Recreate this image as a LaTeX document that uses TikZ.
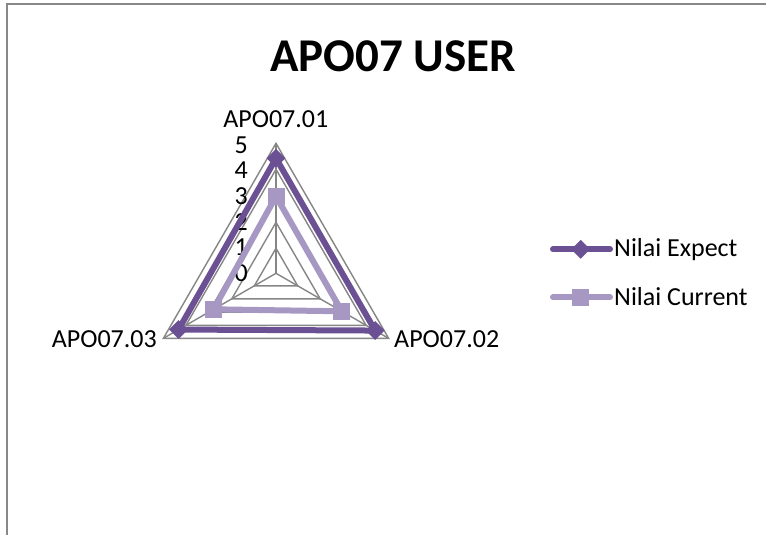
\documentclass[tikz,border=0pt]{standalone}
\usepackage{fontspec}
\setmainfont{Carlito}
\usetikzlibrary{shapes.geometric}
\definecolor{gridgray}{HTML}{868686}
\definecolor{framegray}{HTML}{888888}
\definecolor{expectc}{HTML}{6B5094}
\definecolor{currentc}{HTML}{A698C2}
\tikzset{
  gridline/.style={draw=gridgray, line width=1.4},
  lbl/.style={inner sep=0pt, font=\fontsize{26}{31}\selectfont},
  expline/.style={draw=expectc, line width=6, line join=miter},
  curline/.style={draw=currentc, line width=6, line join=miter},
  expmark/.style={diamond, fill=expectc, minimum size=19, inner sep=0pt},
  curmark/.style={rectangle, fill=currentc, minimum size=17, inner sep=0pt},
}
\begin{document}
\begin{tikzpicture}[x=1pt,y=-1pt]
\useasboundingbox (0,0) rectangle (766,535);
\fill[white] (0,0) rectangle (766,535);
\draw[framegray, line width=2] (6.5,535) -- (6.5,4.5) -- (766,4.5);

\node[inner sep=0pt, font=\bfseries\fontsize{47}{56}\selectfont] (title) at (393,56) {APO07 USER};

\begin{scope}[shift={(276,273.3)}]
  \coordinate (C) at (0,0);
  \foreach \r in {25,51,77.5,104,130}
    \draw[gridline] (-90:\r) -- (30:\r) -- (150:\r) -- cycle;
  \foreach \a in {-90,30,150}
    \draw[gridline] (C) -- (\a:130);
  \foreach \k in {0,...,5}
    \node[lbl, anchor=east] (tick\k) at (-28,{-25.7*\k}) {\k};
  % Expect series
  \coordinate (e1) at (-90:115);
  \coordinate (e2) at (30:114.5);
  \coordinate (e3) at (150:112.5);
  \draw[expline] (e1) -- (e2) -- (e3) -- cycle;
  \foreach \p in {e1,e2,e3} \node[expmark] at (\p) {};
  % Current series
  \coordinate (c1) at (-90:77);
  \coordinate (c2) at (30:76);
  \coordinate (c3) at (150:72);
  \draw[curline] (c1) -- (c2) -- (c3) -- cycle;
  \foreach \p in {c1,c2,c3} \node[curmark] at (\p) {};
\end{scope}

\node[lbl, anchor=base] (ax1) at (275.8,127.7) {APO07.01};
\node[lbl, anchor=base west] (ax2) at (394,347.3) {APO07.02};
\node[lbl, anchor=base east] (ax3) at (157,347.3) {APO07.03};

% Legend
\coordinate (le1) at (553,249.3);
\coordinate (le2) at (610,249.3);
\draw[draw=expectc, line width=6, line cap=round] (le1) -- (le2);
\node[expmark] (legexp) at (580.7,249.3) {};
\node[lbl, anchor=base west] (legexpt) at (614,256.7) {Nilai Expect};
\coordinate (lc1) at (553,297.3);
\coordinate (lc2) at (610,297.3);
\draw[draw=currentc, line width=6, line cap=round] (lc1) -- (lc2);
\node[curmark] (legcur) at (580.7,297.3) {};
\node[lbl, anchor=base west] (legcurt) at (614,305) {Nilai Current};
\end{tikzpicture}
\end{document}
